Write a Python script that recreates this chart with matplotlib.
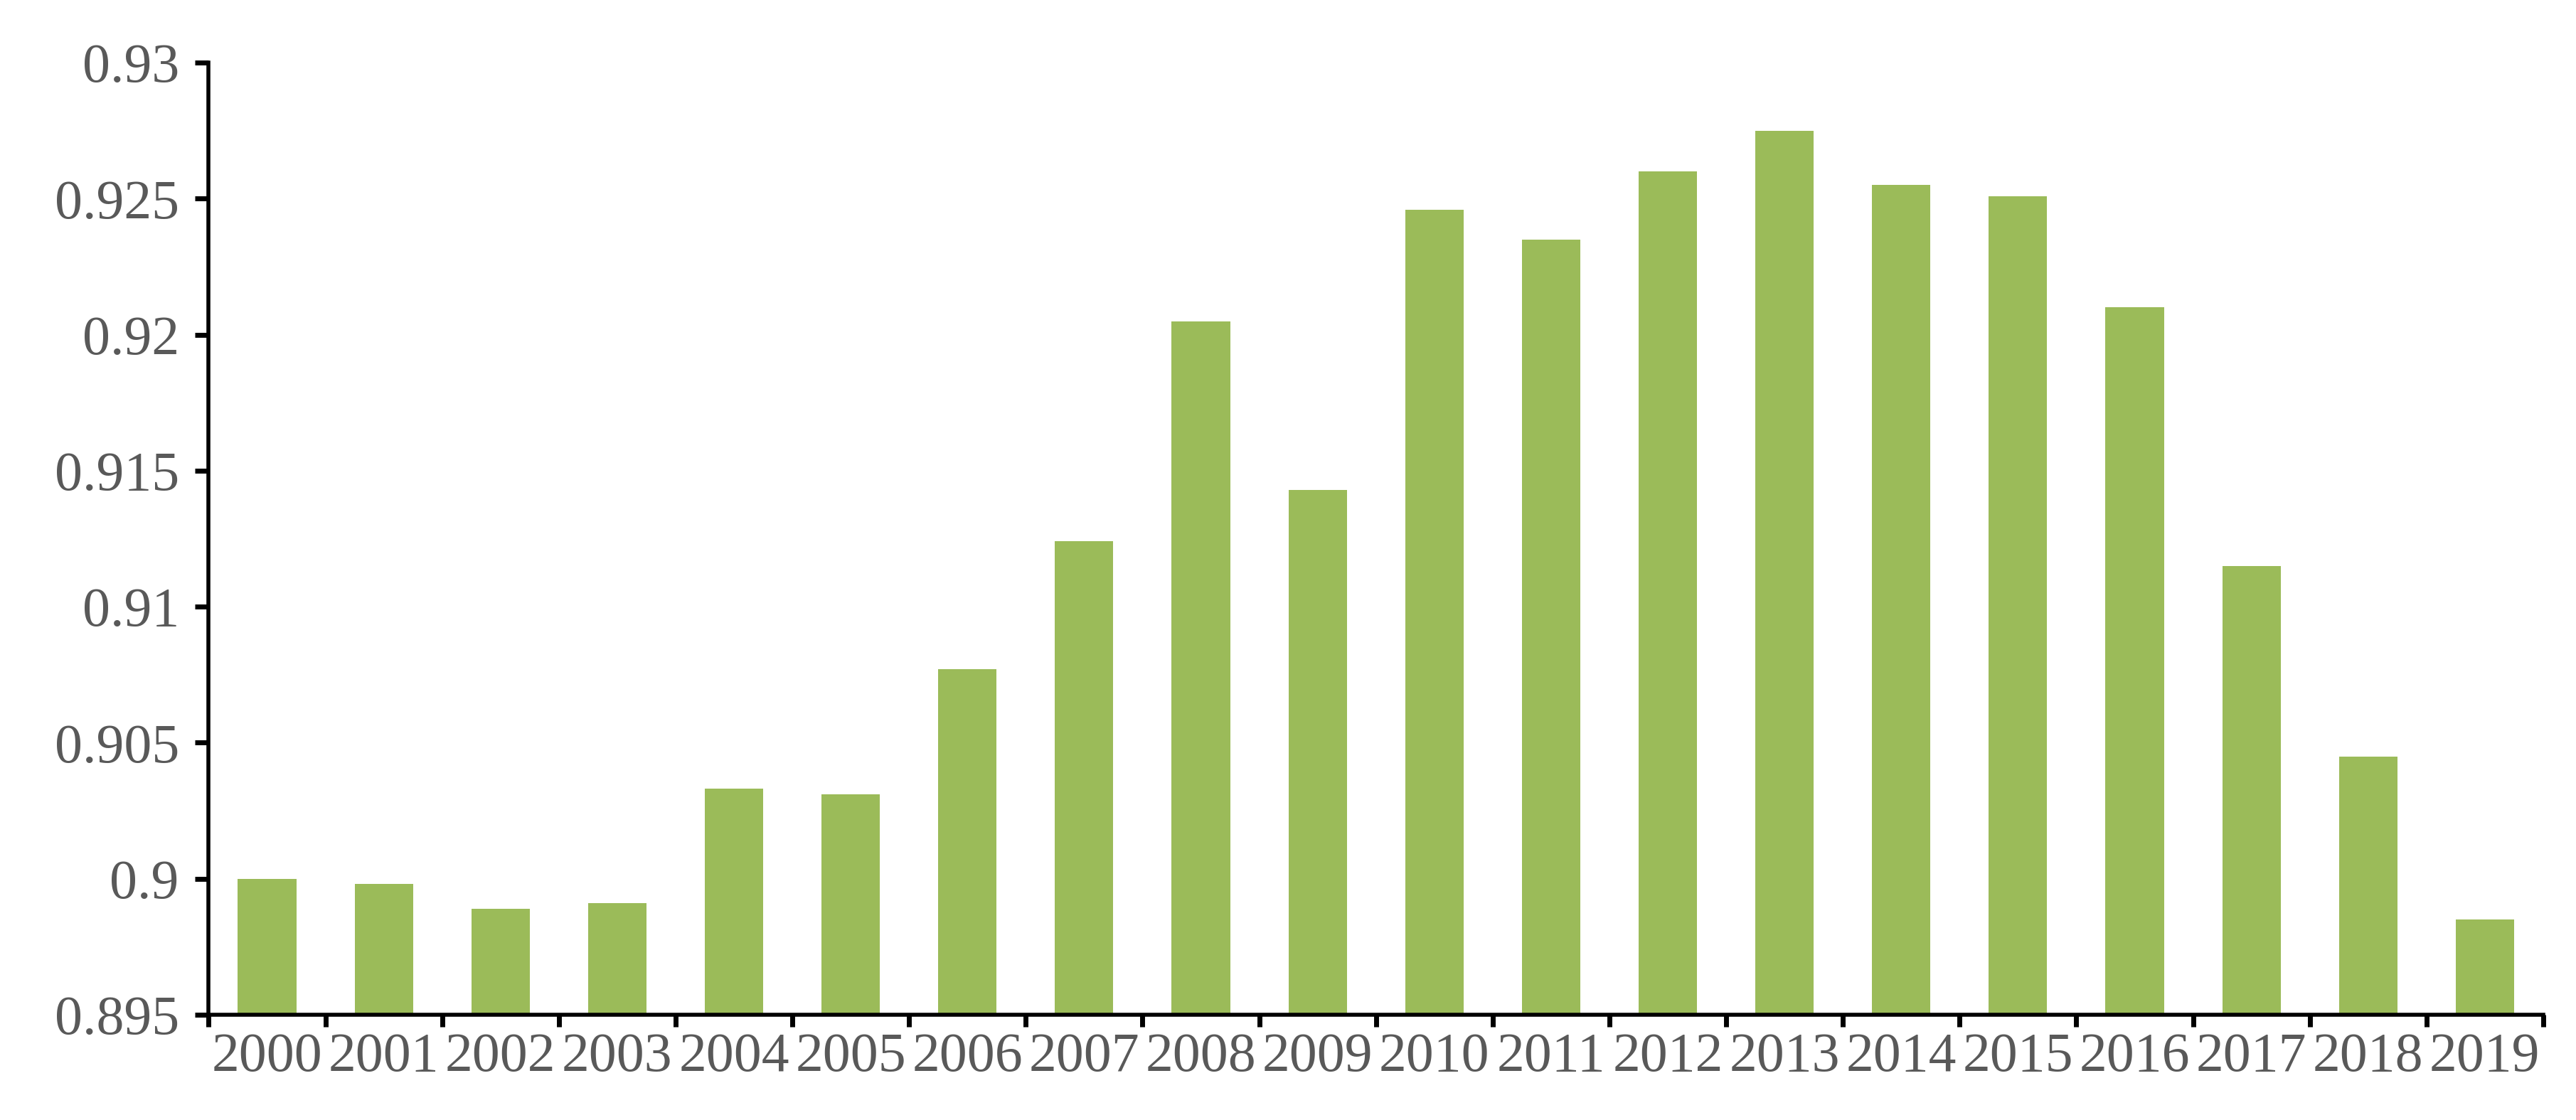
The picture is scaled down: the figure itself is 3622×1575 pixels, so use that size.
import matplotlib
matplotlib.use("Agg")
import matplotlib.pyplot as plt
import numpy as np

years = [str(y) for y in range(2000, 2020)]
values = [0.9000, 0.8998, 0.8989, 0.8991, 0.9033, 0.9031, 0.9077, 0.9124, 0.9205, 0.9143,
          0.9246, 0.9235, 0.9260, 0.9275, 0.9255, 0.9251, 0.9210, 0.9115, 0.9045, 0.8985]
yticks = [0.895, 0.9, 0.905, 0.91, 0.915, 0.92, 0.925, 0.93]
ylabels = ["0.895", "0.9", "0.905", "0.91", "0.915", "0.92", "0.925", "0.93"]

plt.rcParams['font.family'] = ['Liberation Serif', 'DejaVu Serif']
fig = plt.figure(figsize=(36.23, 15.75), dpi=100)
ax = fig.add_axes([0.081, 0.094, 0.906, 0.85])
x = np.arange(len(years))
ax.bar(x, np.array(values) - 0.895, bottom=0.895, width=0.5, color='#9BBB59')
ax.set_ylim(0.895, 0.93)
ax.set_xlim(-0.5, len(years) - 0.5)
ax.set_yticks(yticks)
ax.set_yticklabels(ylabels, fontsize=56, color='#595959')
ax.set_xticks(x)
ax.set_xticklabels(years, fontsize=56, color='#595959')
ax.set_xticks(np.arange(-0.5, len(years)), minor=True)
ax.tick_params(axis='x', which='major', length=0, pad=18)
ax.tick_params(axis='x', which='minor', length=12, width=5, direction='out')
ax.tick_params(axis='y', length=14, width=5, direction='out', pad=16)
for s in ['top', 'right']:
    ax.spines[s].set_visible(False)
for s in ['left', 'bottom']:
    ax.spines[s].set_linewidth(4)
fig.savefig("out.png", dpi=100)
